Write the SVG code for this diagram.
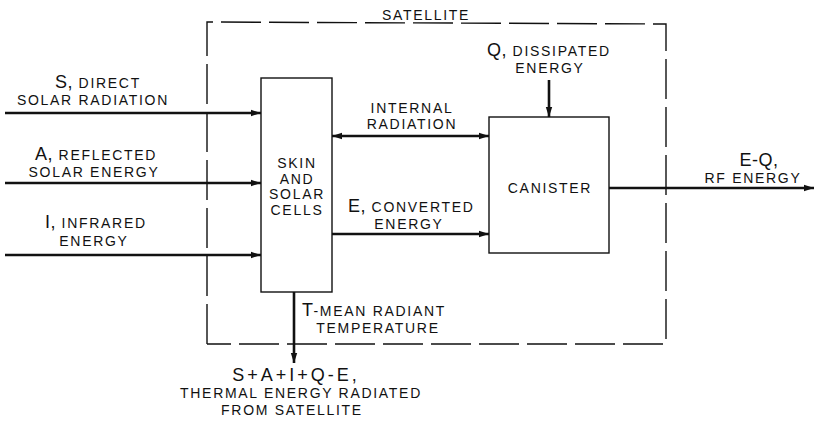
<svg xmlns="http://www.w3.org/2000/svg" width="814" height="423" viewBox="0 0 814 423">
<style>
text{font-family:"Liberation Sans",Arial,sans-serif;fill:#111;font-size:14px;letter-spacing:1.7px}
.big{font-size:18px;letter-spacing:0.5px}
.box{fill:none;stroke:#111;stroke-width:1.4}
.arr{fill:none;stroke:#111;stroke-width:2.6}
.dash{fill:none;stroke:#111;stroke-width:1.4;stroke-dasharray:40 8}
</style>
<defs>
<marker id="ah" markerWidth="10" markerHeight="8" refX="10" refY="4" orient="auto" markerUnits="userSpaceOnUse">
<path d="M0,0.8 L10,4 L0,7.2 Z" fill="#111"/>
</marker>
<marker id="ahs" markerWidth="10" markerHeight="8" refX="0" refY="4" orient="auto" markerUnits="userSpaceOnUse">
<path d="M10,0.8 L0,4 L10,7.2 Z" fill="#111"/>
</marker>
</defs>
<g id="satellite">
<path class="dash" d="M207,344 L207,22 L666,24 L666,344 L207,344"/>
<text x="426" y="20" text-anchor="middle">SATELLITE</text>
</g>
<g id="skin">
<rect class="box" x="261" y="78" width="71" height="214"/>
<text x="297" y="168" text-anchor="middle">SKIN</text>
<text x="297" y="184" text-anchor="middle">AND</text>
<text x="297" y="199" text-anchor="middle">SOLAR</text>
<text x="297" y="215" text-anchor="middle">CELLS</text>
</g>
<g id="canister">
<rect class="box" x="489" y="117" width="120" height="136"/>
<text x="550" y="193" text-anchor="middle">CANISTER</text>
</g>
<g id="connectors">
<line class="arr" x1="5" y1="113" x2="261" y2="113" marker-end="url(#ah)"/>
<line class="arr" x1="5" y1="183" x2="261" y2="183" marker-end="url(#ah)"/>
<line class="arr" x1="5" y1="255" x2="261" y2="255" marker-end="url(#ah)"/>
<line class="arr" x1="332" y1="136" x2="489" y2="136" marker-start="url(#ahs)" marker-end="url(#ah)"/>
<line class="arr" x1="332" y1="234" x2="489" y2="234" marker-end="url(#ah)"/>
<line class="arr" x1="549" y1="80" x2="549" y2="117" marker-end="url(#ah)"/>
<line class="arr" x1="609" y1="188" x2="814" y2="188" marker-end="url(#ah)"/>
<line class="arr" x1="294" y1="292" x2="294" y2="363" marker-end="url(#ah)"/>
</g>
<g id="labels">
<text x="55" y="88"><tspan class="big">S,</tspan> DIRECT</text>
<text x="93" y="105" text-anchor="middle">SOLAR RADIATION</text>
<text x="35" y="160"><tspan class="big">A,</tspan> REFLECTED</text>
<text x="94" y="177" text-anchor="middle">SOLAR ENERGY</text>
<text x="45" y="228"><tspan class="big">I,</tspan> INFRARED</text>
<text x="94" y="246" text-anchor="middle">ENERGY</text>
<text x="412" y="113" text-anchor="middle">INTERNAL</text>
<text x="412" y="129" text-anchor="middle">RADIATION</text>
<text x="487" y="56"><tspan class="big">Q,</tspan> DISSIPATED</text>
<text x="550" y="73" text-anchor="middle">ENERGY</text>
<text x="348" y="212"><tspan class="big">E,</tspan> CONVERTED</text>
<text x="409" y="229" text-anchor="middle">ENERGY</text>
<text x="759" y="166" text-anchor="middle" class="big">E-Q,</text>
<text x="753" y="183" text-anchor="middle">RF ENERGY</text>
<text x="302" y="316"><tspan class="big">T</tspan>-MEAN RADIANT</text>
<text x="378" y="333" text-anchor="middle">TEMPERATURE</text>
<text x="296" y="381" text-anchor="middle" class="big" style="letter-spacing:3px">S+A+I+Q-E,</text>
<text x="301" y="398" text-anchor="middle">THERMAL ENERGY RADIATED</text>
<text x="292" y="415" text-anchor="middle">FROM SATELLITE</text>
</g>
</svg>
